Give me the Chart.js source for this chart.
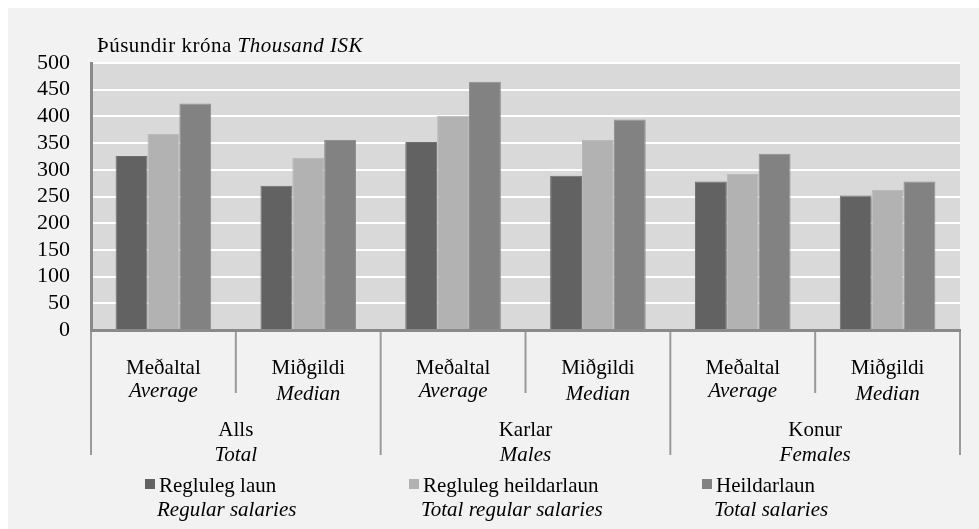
<!DOCTYPE html>
<html>
<head>
<meta charset="utf-8">
<script src="https://cdn.jsdelivr.net/npm/chart.js@4/dist/chart.umd.min.js"></script>
<style>
  html, body { margin: 0; padding: 0; background: #ffffff; }
  #wrap { position: relative; width: 979px; height: 529px; }
</style>
</head>
<body>
<div id="wrap"><canvas id="salaryChart"></canvas></div>
<script>
// Data
const categories = ['Alls Meðaltal', 'Alls Miðgildi', 'Karlar Meðaltal', 'Karlar Miðgildi', 'Konur Meðaltal', 'Konur Miðgildi'];
const statLabels = ['Meðaltal', 'Miðgildi', 'Meðaltal', 'Miðgildi', 'Meðaltal', 'Miðgildi'];
const statLabelsEn = ['Average', 'Median', 'Average', 'Median', 'Average', 'Median'];
const groupLabels = ['Alls', 'Karlar', 'Konur'];
const groupLabelsEn = ['Total', 'Males', 'Females'];
const seriesNames = ['Regluleg laun', 'Regluleg heildarlaun', 'Heildarlaun'];
const seriesNamesEn = ['Regular salaries', 'Total regular salaries', 'Total salaries'];
const regularSalaries = [326, 270, 352, 289, 278, 252];
const totalRegularSalaries = [367, 322, 401, 356, 292, 262];
const totalSalaries = [424, 356, 465, 394, 330, 278];

const seriesColors = ['#626262', '#b2b2b2', '#828282'];
const seriesBorders = ['#6e6e6e', '#bababa', '#8e8e8e'];
const serif = '"Liberation Serif", "Times New Roman", serif';

// Background card, plot area fill, title, hierarchical x labels and legend
const decorPlugin = {
    id: 'decor',
    beforeDraw(chart) {
        const ctx = chart.ctx;
        const area = chart.chartArea;
        ctx.save();
        ctx.fillStyle = '#f2f2f2';
        ctx.fillRect(8, 8, 971, 521);
        ctx.fillStyle = '#d9d9d9';
        ctx.fillRect(area.left, area.top, area.right - area.left, area.bottom - area.top);
        ctx.restore();
    },
    afterDraw(chart) {
        const ctx = chart.ctx;
        const area = chart.chartArea;
        const xs = chart.scales.x;
        const half = (xs.getPixelForValue(1) - xs.getPixelForValue(0)) / 2;
        ctx.save();

        // axis title
        ctx.fillStyle = '#000';
        ctx.textBaseline = 'middle';
        ctx.textAlign = 'left';
        ctx.letterSpacing = '0.5px';
        ctx.font = '21px ' + serif;
        ctx.fillText('Þúsundir króna', 97, 46);
        const w = ctx.measureText('Þúsundir króna ').width;
        ctx.font = 'italic 21px ' + serif;
        ctx.fillText('Thousand ISK', 97 + w, 46);
        ctx.letterSpacing = '0px';

        // separators
        ctx.strokeStyle = '#9a9a9a';
        ctx.lineWidth = 2;
        categories.forEach((c, i) => {
            const edge = xs.getPixelForValue(i) + half;
            if (i % 2 === 0) {
                ctx.beginPath();
                ctx.moveTo(edge, area.bottom + 2);
                ctx.lineTo(edge, 393);
                ctx.stroke();
            }
        });
        for (let g = 0; g <= groupLabels.length; g++) {
            const edge = g < groupLabels.length ? xs.getPixelForValue(g * 2) - half : xs.getPixelForValue(categories.length - 1) + half;
            ctx.beginPath();
            ctx.moveTo(edge, area.bottom + 2);
            ctx.lineTo(edge, 455);
            ctx.stroke();
        }

        // category labels
        ctx.textAlign = 'center';
        ctx.fillStyle = '#000';
        categories.forEach((c, i) => {
            const x = xs.getPixelForValue(i);
            ctx.font = '21px ' + serif;
            ctx.fillText(statLabels[i], x, 368);
            ctx.font = 'italic 21px ' + serif;
            ctx.fillText(statLabelsEn[i], x, i % 2 === 0 ? 391 : 394);
        });
        groupLabels.forEach((g, i) => {
            const x = xs.getPixelForValue(i * 2) + half;
            ctx.font = '21px ' + serif;
            ctx.fillText(g, x, 430);
            ctx.font = 'italic 21px ' + serif;
            ctx.fillText(groupLabelsEn[i], x, 455);
        });

        // legend
        const legendX = [145, 409, 702];
        ctx.textAlign = 'left';
        seriesNames.forEach((name, i) => {
            const lx = legendX[i];
            ctx.fillStyle = seriesColors[i];
            ctx.fillRect(lx, 479, 10, 10);
            ctx.fillStyle = '#000';
            ctx.font = '21px ' + serif;
            ctx.fillText(name, lx + 14, 486);
            ctx.font = 'italic 21px ' + serif;
            ctx.fillText(seriesNamesEn[i], lx + 12, 510);
        });
        ctx.restore();
    }
};

const ctx = document.getElementById('salaryChart').getContext('2d');
new Chart(ctx, {
    type: 'bar',
    data: {
        labels: categories,
        datasets: [
            { label: seriesNames[0], data: regularSalaries, backgroundColor: seriesColors[0], borderColor: seriesBorders[0] },
            { label: seriesNames[1], data: totalRegularSalaries, backgroundColor: seriesColors[1], borderColor: seriesBorders[1] },
            { label: seriesNames[2], data: totalSalaries, backgroundColor: seriesColors[2], borderColor: seriesBorders[2] }
        ]
    },
    options: {
        responsive: true,
        maintainAspectRatio: false,
        animation: false,
        layout: { padding: { left: 0, top: 63, right: 19, bottom: 0 } },
        datasets: {
            bar: { categoryPercentage: 0.66, barPercentage: 1.0, borderWidth: 1 }
        },
        scales: {
            x: {
                grid: { display: false, drawTicks: false },
                border: { color: '#8a8a8a', width: 3 },
                ticks: { display: false },
                afterFit(scale) { scale.height = 199; }
            },
            y: {
                min: 0,
                max: 500,
                grid: { color: '#ffffff', lineWidth: 2, drawTicks: false },
                border: { color: '#8a8a8a', width: 3 },
                ticks: {
                    stepSize: 50,
                    autoSkip: false,
                    color: '#000',
                    padding: 21,
                    font: { family: serif, size: 22 }
                },
                afterFit(scale) { scale.width = 91; }
            }
        },
        plugins: {
            legend: { display: false },
            tooltip: { enabled: false }
        }
    },
    plugins: [decorPlugin]
});
</script>
</body>
</html>
